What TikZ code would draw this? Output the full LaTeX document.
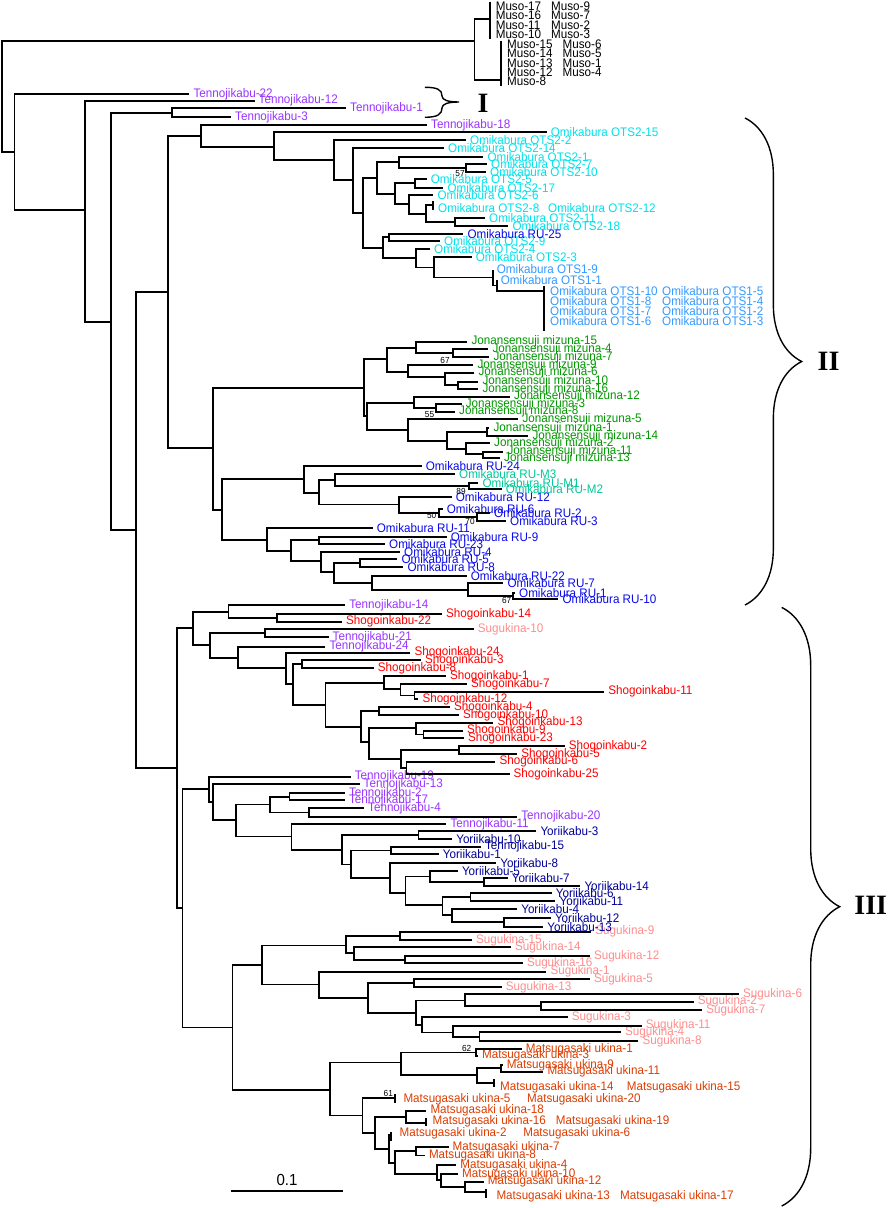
\documentclass[tikz,border=0pt]{standalone}
\usepackage{fontspec}
\setmainfont{Liberation Sans}[FakeStretch=0.94]
\newfontfamily\romanfont{Liberation Serif}
\usetikzlibrary{decorations.pathreplacing}

\definecolor{tkcol}{RGB}{153,51,255}
\definecolor{otstwo}{RGB}{0,225,235}
\definecolor{otsone}{RGB}{51,153,255}
\definecolor{rucol}{RGB}{10,10,235}
\definecolor{rumcol}{RGB}{0,200,150}
\definecolor{jmcol}{RGB}{0,150,0}
\definecolor{skcol}{RGB}{255,0,0}
\definecolor{sgcol}{RGB}{255,140,140}
\definecolor{ykcol}{RGB}{0,0,150}
\definecolor{mucol}{RGB}{220,60,0}

\begin{document}
\begin{tikzpicture}[x=1pt,y=-1pt,
    br/.style={line width=1.8pt},
    tip/.style={anchor=west,inner xsep=4pt,inner ysep=1pt,font=\fontsize{12.4}{13}\selectfont},
    lab/.style={tip,inner xsep=0pt},
    bs/.style={inner sep=0pt,font=\fontsize{8.8}{9}\selectfont},
    clade/.style={decorate,decoration={brace,amplitude=#1},line width=1.4pt},
    roman/.style={font=\romanfont\bfseries\fontsize{28}{28}\selectfont}]

    \useasboundingbox (0,0) rectangle (891,1208);

    % internal nodes
    \foreach \n/\x/\y in {r0/2/96.5, mu/474.5/41, mua/490/19.3, mub/501.3/80,
        n1/14.5/152, n2/85/210, n3/110.6/322, n4/172/113, n5/136/530, n6/168/291.7,
        n7/201/135.7, n8/274/147, n9/334/160, n10/353/180, n11/363/213, n12/376.7/178.3,
        n13/399.3/161.7, n14/466/168, n15/395/194, n16/415/183.3, n17/409.3/204.3,
        n18/426/213.7, z1/432.7/205, n19/455/222.3, n20/382.7/247.8, n21/389.3/237.3,
        n22/415.7/258.2, n23/434/267.4, n24/492.7/277.5, n25/496.7/285.5, z2/544.3/291,
        j0/213/448, j1/364/388.3, j2/386.7/359.3, j3/416/348.3, j4/452.7/353.3,
        j5/407.7/371.7, j6/445/376.7, j7/458.3/385, j8/366.7/416, j9/414/402.7,
        j10/436/408.3, j11/408/430, j12/446.7/440.7, j13/487.3/432, j14/466/449.3,
        j15/483.3/454,
        r1/221.7/509.7, r2/304/479.3, r3/319.3/492.7, r4/335/480, r5/469.3/486,
        r6/399.3/504.5, r7/439.3/513, r8/476.7/517.2, r10/267.3/540, r11/290.7/551,
        r12/319.3/540.3, r13/320.7/561, r14/334/572, r15/360/563.3, r16/371.7/582.9,
        r17/468.3/589.7, r18/513.3/596.2,
        s0/177/768.3, s1/192.9/628.3, s2/228.5/611.7, s2a/276.7/618, s3/210/645,
        s4/265.3/633.3, s5/237.6/658, s6/285.8/668, s7/292.6/684, s8/301.7/664,
        s9/325.4/705, s10/383.9/683.3, s11/400.5/689.3, s11a/414.4/695.5, s12/361/726.7,
        s13/378.8/711.3, s14/368.9/742, s15/416.3/728.3, s16/423.4/734.5, s17/401.3/759,
        s18/459/750, s19/406.4/768,
        t0/182.5/908.3, t1/209/789, t2/212.9/802, t3/235.9/820, t4/270.3/804.5,
        t5/289.4/796.7, t6/308.6/812.5, t7/291.4/836.5, t8/341.9/849.7, t9/418.4/835,
        t10/350.7/864.5, t11/390.9/850.5, t12/390.1/878, t13/405.4/893, t14/429.9/876.5,
        t15/483.9/882, t16/442.5/905, t17/470.5/897, t18/452.1/915, t19/503.7/922,
        g0/232.5/1027.5, g1/262.3/965, g2/345.8/945.5, g3/400.1/936, g4/353.9/953,
        g4a/404.8/959.7, g5/319/984.5, g6/368/997.7, g7/414.3/983.3, g8/415.7/1012.8,
        g9/465.2/1000.5, g10/540.7/1005.8, g11/422.3/1025, g12/453/1032.5, g13/479.4/1036.7,
        m0/329.9/1089.7, m1/400.7/1062.5, m2/476/1052.5, m3/477.3/1075.3, m4/500.7/1068.3,
        m3z/494/1083.3, m5/362.4/1115.5, m5z/394.9/1098.3, m6/375/1132.8, m7/405.6/1116.7,
        m7z/426.3/1122.7, m8/389.2/1148.8, m8z/391.1/1135, m9/394.9/1162.6, m10/416/1151.2,
        m11/437/1174, m12/440.9/1180.3, m13/464.6/1186.7, m13z/486/1191.7}
        \coordinate (\n) at (\x,\y);

    % zero-length groups
    \foreach \z/\a/\b in {mua/1.7/39.3, mub/40.7/86, z1/201/210, z2/286/331,
        m3z/1079.3/1087.3, m5z/1094/1102.5, m7z/1118.3/1126, m8z/1132/1140.7, m13z/1189/1198}
        \draw[br] (\z |- 0,\a) -- (\z |- 0,\b);

    \foreach \n/\x/\y/\t in {mso17/495.6/6/Muso-17, mso9/551/6/Muso-9,
        mso16/495.6/15.3/Muso-16, mso7/551/15.3/Muso-7, mso11/495.6/25/Muso-11,
        mso2/551/25/Muso-2, mso10/495.6/34.3/Muso-10, mso3/551/34.3/Muso-3,
        mso15/507/44.3/Muso-15, mso6/562.5/44.3/Muso-6, mso14/507/53.7/Muso-14,
        mso5/562.5/53.7/Muso-5, mso13/507/63.3/Muso-13, mso1/562.5/63.3/Muso-1,
        mso12/507/72.7/Muso-12, mso4/562.5/72.7/Muso-4, mso8/507/81.7/Muso-8}
        \node[lab] (\n) at (\x,\y) {\t};

    \foreach \n/\x/\y/\t in {tk22/189.4/94/Tennojikabu-22, tk12/254.5/100.7/Tennojikabu-12,
        tk1/346/108/Tennojikabu-1, tk3/231/117/Tennojikabu-3, tk18/427/125/Tennojikabu-18,
        tk14/345.2/605/Tennojikabu-14, tk21/328.5/637.3/Tennojikabu-21,
        tk24/325.4/646.7/Tennojikabu-24, tk19/350.7/776.7/Tennojikabu-19,
        tk13/359.5/784.3/Tennojikabu-13, tk2/344.9/793.3/Tennojikabu-2,
        tk17/344.9/800/Tennojikabu-17, tk4/364/808.3/Tennojikabu-4,
        tk20/517.1/816.7/Tennojikabu-20, tk11/446.3/824.3/Tennojikabu-11}
        \node[tip,tkcol] (\n) at (\x,\y) {\t};

    \foreach \n/\x/\y/\t in {o215/546.7/132.3/Omikabura OTS2-15, o22/466/140/Omikabura OTS2-2,
        o214/444/148.3/Omikabura OTS2-14, o21/483.3/156.7/Omikabura OTS2-1,
        o27/487/164.3/Omikabura OTS2-7, o210/486/171.7/Omikabura OTS2-10,
        o25/426.7/179.3/Omikabura OTS2-5, o217/443.3/187.7/Omikabura OTS2-17,
        o26/433.3/195/Omikabura OTS2-6, o211/485/218.3/Omikabura OTS2-11,
        o218/508.3/226/Omikabura OTS2-18, o29/440/240.7/Omikabura OTS2-9,
        o24/430/249/Omikabura OTS2-4, o23/471.7/257.3/Omikabura OTS2-3}
        \node[tip,otstwo] (\n) at (\x,\y) {\t};
    \node[lab,otstwo] (o28) at (438,207.7) {Omikabura OTS2-8};
    \node[lab,otstwo] (o212) at (548,207.7) {Omikabura OTS2-12};

    \foreach \n/\x/\y/\t in {o19/492.7/269.5/Omikabura OTS1-9, o11/496.7/280/Omikabura OTS1-1}
        \node[tip,otsone] (\n) at (\x,\y) {\t};
    \foreach \n/\x/\y/\t in {o110/550/291.5/Omikabura OTS1-10, o15/662/291.5/Omikabura OTS1-5,
        o18/550/301.5/Omikabura OTS1-8, o14/662/301.5/Omikabura OTS1-4,
        o17/550/311.5/Omikabura OTS1-7, o12/662/311.5/Omikabura OTS1-2,
        o16/550/321.5/Omikabura OTS1-6, o13/662/321.5/Omikabura OTS1-3}
        \node[lab,otsone] (\n) at (\x,\y) {\t};

    \foreach \n/\x/\y/\t in {jm15/467.3/341.7/15, jm4/488.3/349.3/4, jm7/489.3/357.3/7,
        jm9/473.3/365/9, jm6/474.3/372.7/6, jm10/478.3/381.7/10, jm16/478.3/389/16,
        jm12/510/396.7/12, jm3/461.7/404/3, jm8/455/411.7/8, jm5/518.3/419.3/5,
        jm1/489.3/428/1, jm14/528.3/436/14, jm2/490/443.3/2, jm11/503.3/451.7/11,
        jm13/500/458.3/13}
        \node[tip,jmcol] (\n) at (\x,\y) {Jonansensuji mizuna-\t};

    \foreach \n/\x/\y/\t in {ru25/463.3/234/25, ru24/421.7/466/24, ru12/451.7/497.3/12,
        ru6/442.7/509/6, ru2/490/513.3/2, ru3/506/521/3, ru11/372.7/528.3/11,
        ru9/446.7/536.7/9, ru23/385/544/23, ru4/400/551.7/4, ru5/397.3/559.3/5,
        ru8/403.3/567.3/8, ru22/466.7/576/22, ru7/503.3/583.3/7, ru1/515/593/1,
        ru10/558.3/599.3/10}
        \node[tip,rucol] (\n) at (\x,\y) {Omikabura RU-\t};
    \foreach \n/\x/\y/\t in {rum3/455/474/M3, rum1/478.3/482.7/M1, rum2/501.7/489.3/M2}
        \node[tip,rumcol] (\n) at (\x,\y) {Omikabura RU-\t};

    \foreach \n/\x/\y/\t in {sk14/442/614/14, sk22/342/621.7/22, sk24/410.4/652.7/24,
        sk3/421/660/3, sk8/373.6/668.3/8, sk1/446/676/1, sk7/467/684/7,
        sk11/604.2/691.7/11, sk12/418.3/699.3/12, sk4/450/707.3/4, sk10/459/715/10,
        sk13/493.4/722.7/13, sk9/463/730.7/9, sk23/463.8/738.3/23, sk2/564.6/746/2,
        sk5/517.2/754/5, sk6/495.4/761.7/6, sk25/509.5/774/25}
        \node[tip,skcol] (\n) at (\x,\y) {Shogoinkabu-\t};

    \foreach \n/\x/\y/\t in {sg10/473.7/629.3/10, sg9/591.2/931.7/9, sg15/471.9/940/15,
        sg14/511/947.3/14, sg12/589.8/956/12, sg16/522.8/963.3/16, sg1/546.4/971.7/1,
        sg5/589.8/979.3/5, sg13/501.6/987.3/13, sg6/738.9/994.3/6, sg2/693.7/1001.7/2,
        sg7/702.1/1010/7, sg3/567.7/1017.3/3, sg11/641.7/1025.7/11, sg4/621/1032.3/4,
        sg8/638.4/1041/8}
        \node[tip,sgcol] (\n) at (\x,\y) {Sugukina-\t};

    \foreach \n/\x/\y/\t in {yk3/536.3/831/Yoriikabu-3, yk10/452.1/839/Yoriikabu-10,
        tk15/480.8/846.7/Tennojikabu-15, yk1/438.7/854.3/Yoriikabu-1,
        yk8/496.1/863.3/Yoriikabu-8, yk5/457.8/871/Yoriikabu-5, yk7/507.6/878.3/Yoriikabu-7,
        yk14/580.3/885.7/Yoriikabu-14, yk6/551.6/893.3/Yoriikabu-6,
        yk11/555.4/901/Yoriikabu-11, yk4/517.1/909/Yoriikabu-4,
        yk12/550.8/917.7/Yoriikabu-12, yk13/543.2/926.7/Yoriikabu-13}
        \node[tip,ykcol] (\n) at (\x,\y) {\t};

    \foreach \n/\x/\y/\t in {mu1/521.7/1049.3/1, mu3/478/1055.7/3, mu9/502.7/1065/9,
        mu11/543.3/1071.7/11, mu18/426.3/1110.7/18, mu7/448.5/1147/7, mu8/424.8/1155.5/8,
        mu4/456.2/1165/4, mu10/457.9/1174/10, mu12/483.7/1181.7/12}
        \node[tip,mucol] (\n) at (\x,\y) {Matsugasaki ukina-\t};
    \foreach \n/\x/\y/\t in {mu14/500/1087.3/14, mu15/626.7/1087.3/15,
        mu5/403.3/1099.3/5, mu20/527/1099.3/20, mu16/432.4/1121.7/16, mu19/555.7/1121.7/19,
        mu2/399.5/1133/2, mu6/523.1/1133/6, mu13/496.3/1196.7/13, mu17/620/1196.7/17}
        \node[lab,mucol] (\n) at (\x,\y) {Matsugasaki ukina-\t};

    % branches
    \foreach \a/\b in {r0/mu, r0/n1, mu/mua, mu/mub, n1/tk22.west, n1/n2, n2/tk12.west, n2/n3,
        n3/n4, n3/n5, n4/tk1.west, n4/tk3.west, n5/n6, n5/s0, n6/n7, n6/j0,
        n7/tk18.west, n7/n8, n8/o215.west, n8/n9, n9/o22.west, n9/n10,
        n10/o214.west, n10/n11, n11/n12, n11/n20, n12/n13, n12/n15,
        n13/o21.west, n13/n14, n14/o27.west, n14/o210.west, n15/n16, n15/n17,
        n16/o25.west, n16/o217.west, n17/o26.west, n17/n18, n18/z1, n18/n19,
        n19/o211.west, n19/o218.west, n20/n21, n20/n22, n21/ru25.west, n21/o29.west,
        n22/o24.west, n22/n23, n23/o23.west, n23/n24, n24/o19.west, n24/n25,
        n25/o11.west, n25/z2,
        j0/j1, j0/r1, j1/j2, j1/j8, j2/j3, j2/j5, j3/jm15.west, j3/j4,
        j4/jm4.west, j4/jm7.west, j5/jm9.west, j5/j6, j6/jm6.west, j6/j7,
        j7/jm10.west, j7/jm16.west, j8/j9, j8/j11, j9/jm12.west, j9/j10,
        j10/jm3.west, j10/jm8.west, j11/jm5.west, j11/j12, j12/j13, j12/j14,
        j13/jm1.west, j13/jm14.west, j14/jm2.west, j14/j15, j15/jm11.west, j15/jm13.west,
        r1/r2, r1/r10, r2/ru24.west, r2/r3, r3/r4, r3/r6, r4/rum3.west, r4/r5,
        r5/rum1.west, r5/rum2.west, r6/ru12.west, r6/r7, r7/ru6.west, r7/r8,
        r8/ru2.west, r8/ru3.west, r10/ru11.west, r10/r11, r11/r12, r11/r13,
        r12/ru9.west, r12/ru23.west, r13/ru4.west, r13/r14, r14/r15, r14/r16,
        r15/ru5.west, r15/ru8.west, r16/ru22.west, r16/r17, r17/ru7.west, r17/r18,
        r18/ru1.west, r18/ru10.west,
        s0/s1, s0/t0, s1/s2, s1/s3, s2/tk14.west, s2/s2a, s2a/sk14.west, s2a/sk22.west,
        s3/s4, s3/s5, s4/sg10.west, s4/tk21.west, s5/tk24.west, s5/s6,
        s6/sk24.west, s6/s7, s7/s8, s7/s9, s8/sk3.west, s8/sk8.west, s9/s10, s9/s12,
        s10/sk1.west, s10/s11, s11/sk7.west, s11/s11a, s11a/sk11.west, s11a/sk12.west,
        s12/s13, s12/s14, s13/sk4.west, s13/sk10.west, s14/s15, s14/s17,
        s15/sk13.west, s15/s16, s16/sk9.west, s16/sk23.west, s17/s18, s17/s19,
        s18/sk2.west, s18/sk5.west, s19/sk6.west, s19/sk25.west,
        t0/t1, t0/g0, t1/tk19.west, t1/t2, t2/tk13.west, t2/t3, t3/t4, t3/t7,
        t4/t5, t4/t6, t5/tk2.west, t5/tk17.west, t6/tk4.west, t6/tk20.west,
        t7/tk11.west, t7/t8, t8/t9, t8/t10, t9/yk3.west, t9/yk10.west, t10/t11, t10/t12,
        t11/tk15.west, t11/yk1.west, t12/yk8.west, t12/t13, t13/t14, t13/t16,
        t14/yk5.west, t14/t15, t15/yk7.west, t15/yk14.west, t16/t17, t16/t18,
        t17/yk6.west, t17/yk11.west, t18/yk4.west, t18/t19, t19/yk12.west, t19/yk13.west,
        g0/g1, g0/m0, g1/g2, g1/g5, g2/g3, g2/g4, g3/sg9.west, g3/sg15.west,
        g4/sg14.west, g4/g4a, g4a/sg12.west, g4a/sg16.west, g5/sg1.west, g5/g6,
        g6/g7, g6/g8, g7/sg5.west, g7/sg13.west, g8/g9, g8/g11, g9/sg6.west, g9/g10,
        g10/sg2.west, g10/sg7.west, g11/sg3.west, g11/g12, g12/sg11.west, g12/g13,
        g13/sg4.west, g13/sg8.west,
        m0/m1, m0/m5, m1/m2, m1/m3, m2/mu1.west, m2/mu3.west, m3/m4, m3/m3z,
        m4/mu9.west, m4/mu11.west, m5/m5z, m5/m6, m6/m7, m6/m8, m7/mu18.west, m7/m7z,
        m8/m8z, m8/m9, m9/m10, m9/m11, m10/mu7.west, m10/mu8.west, m11/mu4.west, m11/m12,
        m12/mu10.west, m12/m13, m13/mu12.west, m13/m13z}
        \draw[br] (\a) |- (\b);

    % bootstrap values
    \node[bs] (b57) at (460,173.3) {57};
    \node[bs] (b67a) at (445,360.7) {67};
    \node[bs] (b55) at (429.5,415) {55};
    \node[bs] (b89) at (461,491.7) {89};
    \node[bs] (b50) at (431.7,515) {50};
    \node[bs] (b70) at (470,521.7) {70};
    \node[bs] (b67b) at (506.7,600.7) {67};
    \node[bs] (b62) at (466.7,1048.3) {62};
    \node[bs] (b61) at (388.3,1093.3) {61};

    % groups
    \coordinate (bIa) at (424.8,87.3);
    \coordinate (bIb) at (424.8,117.3);
    \coordinate (bIIa) at (745,118);
    \coordinate (bIIb) at (745,605);
    \coordinate (bIIIa) at (781.7,607.4);
    \coordinate (bIIIb) at (781.7,1206);
    \draw[line width=1.4pt] (bIa) .. controls (438,87.3) and (442,90) .. (442,96)
        .. controls (442,100) and (448,102) .. (459,102)
        .. controls (448,102) and (442,104) .. (442,108)
        .. controls (442,114) and (438,117.3) .. (bIb);
    \draw[clade=56.7pt] (bIIa) -- (bIIb);
    \draw[clade=58pt] (bIIIa) -- (bIIIb);
    \node[roman] (gI) at (483,103) {I};
    \node[roman] (gII) at (828.5,361.5) {II};
    \node[roman] (gIII) at (870.8,905.6) {III};

    % scale bar
    \coordinate (sbl) at (231,1191);
    \coordinate (sbr) at (343,1191);
    \draw[line width=1.4pt] (sbl) -- (sbr);
    \node[font=\fontsize{16}{16}\selectfont] (sbt) at (287,1180) {0.1};
\end{tikzpicture}
\end{document}
